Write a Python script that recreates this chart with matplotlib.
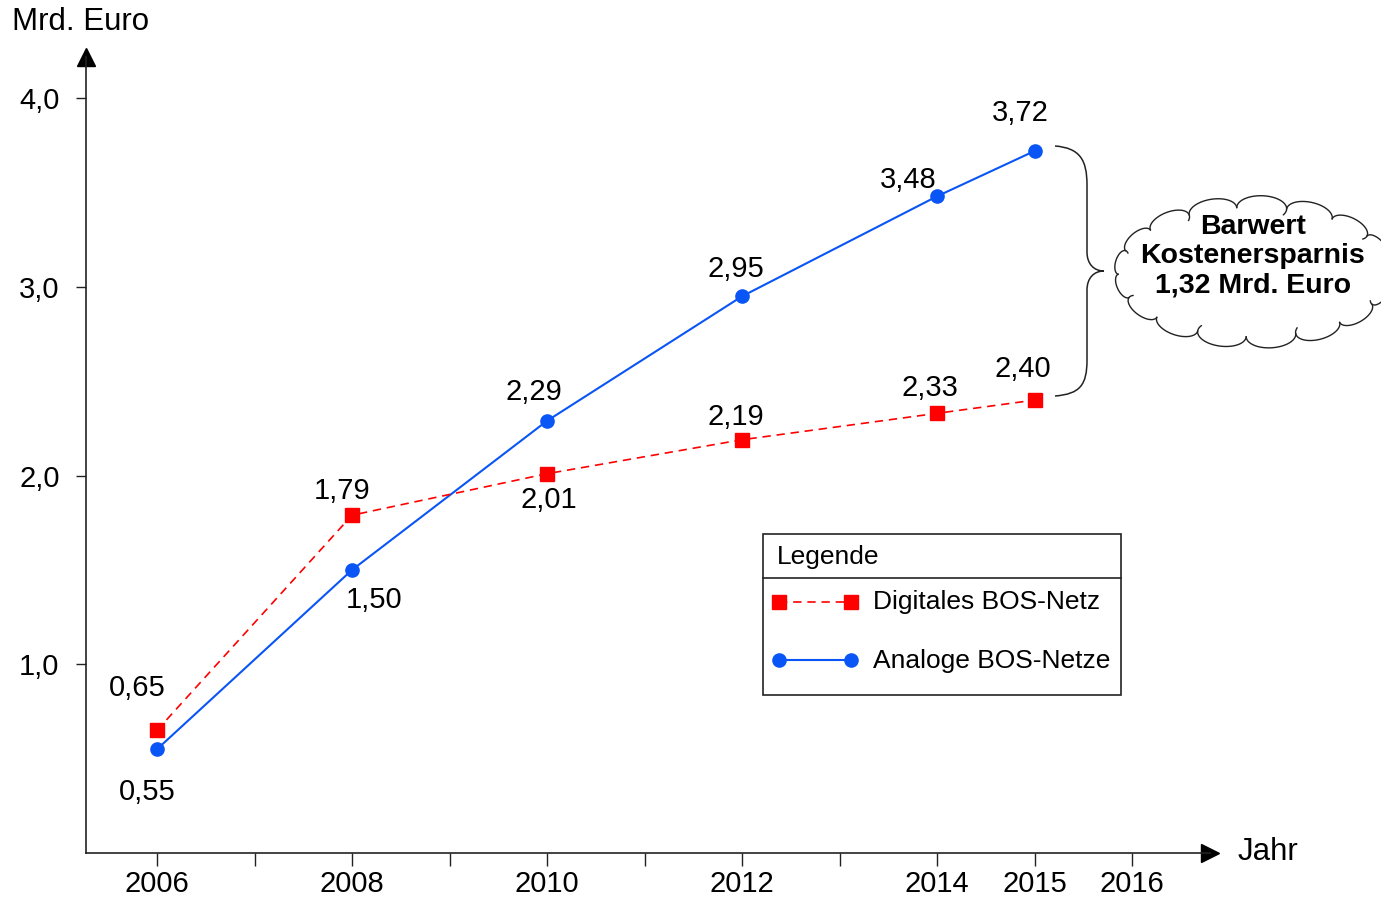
import numpy as np
import matplotlib
matplotlib.use('Agg')
import matplotlib.pyplot as plt
from matplotlib.path import Path
from matplotlib.patches import PathPatch, Rectangle
from matplotlib.lines import Line2D
from matplotlib.transforms import Affine2D

# Data
years = [2006, 2008, 2010, 2012, 2014, 2015]
digital = [0.65, 1.79, 2.01, 2.19, 2.33, 2.40]
analog = [0.55, 1.50, 2.29, 2.95, 3.48, 3.72]
digital_labels = ['0,65', '1,79', '2,01', '2,19', '2,33', '2,40']
analog_labels = ['0,55', '1,50', '2,29', '2,95', '3,48', '3,72']
yticks = [1.0, 2.0, 3.0, 4.0]
ytick_labels = ['1,0', '2,0', '3,0', '4,0']
xticks = list(range(2006, 2017))
xtick_labels = ['2006', '', '2008', '', '2010', '', '2012', '', '2014', '2015', '2016']

# label offsets in pixels (dx, dy)
digital_offsets = [(-20, 42), (-10, 24), (2, -26), (-6, 23), (-7, 25), (-12, 31)]
analog_offsets = [(-10, -43), (22, -30), (-13, 29), (-6, 27), (-29, 16), (-14, 38)]

RED = '#ff0000'
BLUE = '#0a55f5'

W, H = 1381, 898
plt.rcParams['font.family'] = ['Liberation Sans', 'DejaVu Sans']
fig = plt.figure(figsize=(W / 100, H / 100), dpi=100)

# pixel coords (origin top-left) -> display
pix = Affine2D().scale(1 / W, -1 / H).translate(0, 1) + fig.transFigure

ax = fig.add_axes([86 / W, 1 - 853 / H, (1209.5 - 86) / W, (853 - 56.5) / H])
ax.set_xlim(2006 - 71 / 97.5, 2006 + 1052.5 / 97.5)
ax.set_ylim(0, 796.5 / 188.7)

for s in ['top', 'right']:
    ax.spines[s].set_visible(False)
for s in ['left', 'bottom']:
    ax.spines[s].set_color('#222222')
    ax.spines[s].set_linewidth(1.2)

ax.plot(0, 1, '^', color='black', ms=13, transform=ax.transAxes, clip_on=False)
ax.plot(1, 0, '>', color='black', ms=13, transform=ax.transAxes, clip_on=False)

ax.set_yticks(yticks)
ax.set_yticklabels(ytick_labels)
ax.set_xticks(xticks)
ax.set_xticklabels(xtick_labels)
ax.tick_params(axis='y', direction='out', length=7, width=1, color='#222222',
               pad=12, labelsize=21)
ax.tick_params(axis='x', direction='out', length=9, width=1, color='#222222',
               pad=3, labelsize=21)

# series
ax.plot(years, analog, '-', color=BLUE, lw=1.5, marker='o', ms=9.5,
        mfc=BLUE, mec=BLUE, clip_on=False, zorder=3)
ax.plot(years, digital, '--', color=RED, lw=1.2, dashes=(5, 3.5), marker='s',
        ms=9.5, mfc=RED, mec=RED, clip_on=False, zorder=3)

for x, y, t, off in zip(years, analog, analog_labels, analog_offsets):
    ax.annotate(t, (x, y), xytext=off, textcoords='offset pixels',
                ha='center', va='center', fontsize=21)
for x, y, t, off in zip(years, digital, digital_labels, digital_offsets):
    ax.annotate(t, (x, y), xytext=off, textcoords='offset pixels',
                ha='center', va='center', fontsize=21)

# axis titles
fig.text(12 / W, 1 - 22 / H, 'Mrd. Euro', fontsize=22.5, ha='left', va='center')
fig.text(1238 / W, 1 - 852 / H, 'Jahr', fontsize=22.5, ha='left', va='center')

# legend box
fig.add_artist(Rectangle((763, 534), 358, 161, transform=pix, fill=False,
                         ec='#222222', lw=1.2))
fig.add_artist(Line2D([763, 1121], [578, 578], transform=pix, color='#222222', lw=1.2))
fig.text(777 / W, 1 - 557 / H, 'Legende', fontsize=19, ha='left', va='center')
fig.add_artist(Line2D([779, 851], [602, 602], transform=pix, color=RED, lw=1.2,
                      ls='--', dashes=(5, 3.5), marker='s', ms=9.5, markevery=[0, 1]))
fig.add_artist(Line2D([779, 851], [660, 660], transform=pix, color=BLUE, lw=1.5,
                      marker='o', ms=9.5))
fig.text(873 / W, 1 - 602 / H, 'Digitales BOS-Netz', fontsize=19, ha='left', va='center')
fig.text(873 / W, 1 - 661 / H, 'Analoge BOS-Netze', fontsize=19, ha='left', va='center')

# curly brace
verts = [(1055, 146), (1080, 148), (1087, 160), (1087, 185),
         (1087, 252),
         (1087, 264), (1094, 271), (1104, 271),
         (1094, 271), (1087, 278), (1087, 290),
         (1087, 360),
         (1087, 385), (1080, 394), (1055, 396)]
codes = [Path.MOVETO, Path.CURVE4, Path.CURVE4, Path.CURVE4,
         Path.LINETO,
         Path.CURVE4, Path.CURVE4, Path.CURVE4,
         Path.CURVE4, Path.CURVE4, Path.CURVE4,
         Path.LINETO,
         Path.CURVE4, Path.CURVE4, Path.CURVE4]
fig.add_artist(PathPatch(Path(verts, codes), transform=pix, fill=False,
                         ec='#222222', lw=1.1))

# cloud
cx, cy, a, b = 1254, 272, 136, 65
n = 17
ang = np.linspace(0, 2 * np.pi, n + 1) + 0.15
pts = np.c_[cx + a * np.cos(ang), cy + b * np.sin(ang)]
for i in range(n):
    p0, p1 = pts[i], pts[i + 1]
    mid = (p0 + p1) / 2
    chord = p1 - p0
    r = np.linalg.norm(chord) / 2
    u = chord / (2 * r)
    nv = np.array([-u[1], u[0]])
    if np.dot(nv, mid - np.array([cx, cy])) < 0:
        nv = -nv
    end = -0.5 if i % 2 == 0 else 0.0
    th = np.linspace(np.pi, end, 40)
    arc = mid + np.outer(r * np.cos(th), u) + np.outer(0.5 * r * np.sin(th), nv)
    fig.add_artist(Line2D(arc[:, 0], arc[:, 1], transform=pix, color='#222222', lw=1.0))

fig.text(1253 / W, 1 - 256 / H, 'Barwert\nKostenersparnis\n1,32 Mrd. Euro',
         fontsize=20.5, fontweight='bold', ha='center', va='center', linespacing=1.17)

fig.savefig('out.png', dpi=100)
